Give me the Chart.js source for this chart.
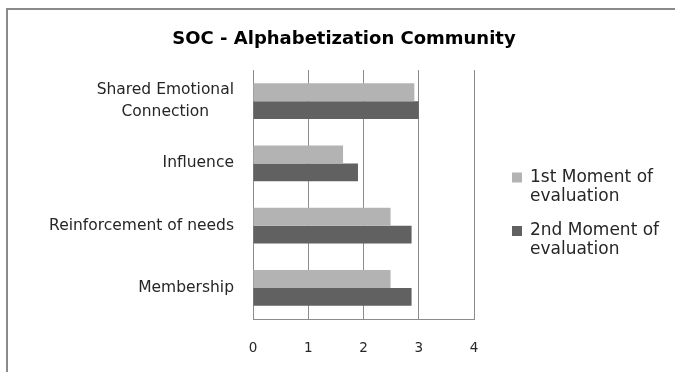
<!DOCTYPE html>
<html lang="en">
  <head>
    <meta charset="UTF-8" />
    <meta name="viewport" content="width=device-width, initial-scale=1.0" />
    <script src="https://cdn.jsdelivr.net/npm/chart.js@4"></script>
    <title>SOC - Alphabetization Community</title>
    <style>
      html, body { margin: 0; background: #fff; overflow: hidden; }
      canvas { display: block; }
    </style>
  </head>
  <body>
    <canvas id="myChart" width="675" height="372"></canvas>

    <script>
      // dimensions, top to bottom
      const categories = [
        ["Shared Emotional", "Connection"],
        "Influence",
        "Reinforcement of needs",
        "Membership"
      ];
      const firstMoment = [2.92, 1.63, 2.49, 2.49];
      const secondMoment = [3.0, 1.9, 2.87, 2.87];
      const xTicks = [0, 1, 2, 3, 4];
      const chartTitle = "SOC - Alphabetization Community";

      const labelFont = "15.5px 'DejaVu Sans'";
      const legendFont = "17px 'DejaVu Sans'";
      const titleFont = "bold 18px 'DejaVu Sans'";

      // frame, title, category labels and the wrapped legend on the right
      const decorations = {
        id: "decorations",
        beforeDraw(chart) {
          const ctx = chart.ctx;
          ctx.save();
          ctx.strokeStyle = "#8a8a8a";
          ctx.lineWidth = 2;
          ctx.beginPath();
          ctx.moveTo(7, 372);
          ctx.lineTo(7, 9);
          ctx.lineTo(675, 9);
          ctx.stroke();
          ctx.restore();
        },
        afterDraw(chart) {
          const ctx = chart.ctx;
          const yScale = chart.scales.y;
          ctx.save();
          ctx.textBaseline = "middle";

          ctx.fillStyle = "#000";
          ctx.font = titleFont;
          ctx.textAlign = "center";
          ctx.fillText(chartTitle, 344, 39);

          ctx.fillStyle = "#262626";
          ctx.font = labelFont;
          const right = chart.chartArea.left - 19;
          chart.data.labels.forEach((lab, i) => {
            const lines = Array.isArray(lab) ? lab : [lab];
            const w = Math.max(...lines.map(l => ctx.measureText(l).width));
            const cy = yScale.getPixelForValue(i);
            const lh = 22;
            lines.forEach((l, j) => {
              ctx.fillText(l, right - w / 2, cy + (j - (lines.length - 1) / 2) * lh);
            });
          });

          // legend
          ctx.font = legendFont;
          ctx.textAlign = "left";
          let y = 177.5;
          chart.data.datasets.forEach(ds => {
            ctx.fillStyle = ds.backgroundColor;
            ctx.fillRect(512, y - 5, 10, 10);
            ctx.fillStyle = "#262626";
            const words = ds.label.split(" ");
            const lines = [];
            let cur = "";
            words.forEach(wd => {
              const t = cur ? cur + " " + wd : wd;
              if (ctx.measureText(t).width > 138 && cur) {
                lines.push(cur);
                cur = wd;
              } else {
                cur = t;
              }
            });
            lines.push(cur);
            lines.forEach((l, j) => ctx.fillText(l, 530, y + j * 19));
            y += 53.5;
          });
          ctx.restore();
        }
      };

      const ctx = document.getElementById("myChart").getContext("2d");
      const chart = new Chart(ctx, {
        type: "bar",
        data: {
          labels: categories,
          datasets: [
            {
              label: "1st Moment of evaluation",
              backgroundColor: "#b3b3b3",
              data: firstMoment
            },
            {
              label: "2nd Moment of evaluation",
              backgroundColor: "#616161",
              data: secondMoment
            }
          ]
        },
        options: {
          responsive: false,
          animation: false,
          indexAxis: "y",
          layout: { padding: { top: 70, right: 201, left: 0, bottom: 0 } },
          datasets: {
            bar: { barPercentage: 1, categoryPercentage: 0.572 }
          },
          scales: {
            x: {
              min: 0,
              max: 4,
              afterBuildTicks: scale => {
                scale.ticks = xTicks.map(v => ({ value: v }));
              },
              afterFit: scale => {
                scale.height = 53;
              },
              grid: { color: "#8c8c8c", drawTicks: false },
              border: { color: "#8c8c8c" },
              ticks: {
                padding: 21,
                color: "#262626",
                font: { family: "DejaVu Sans", size: 13.5 }
              }
            },
            y: {
              afterFit: scale => {
                scale.width = 253;
              },
              grid: { display: false },
              border: { color: "#8c8c8c" },
              ticks: { display: false }
            }
          },
          plugins: {
            legend: { display: false },
            tooltip: { enabled: false },
            title: { display: false }
          }
        },
        plugins: [decorations]
      });
    </script>
  </body>
</html>
